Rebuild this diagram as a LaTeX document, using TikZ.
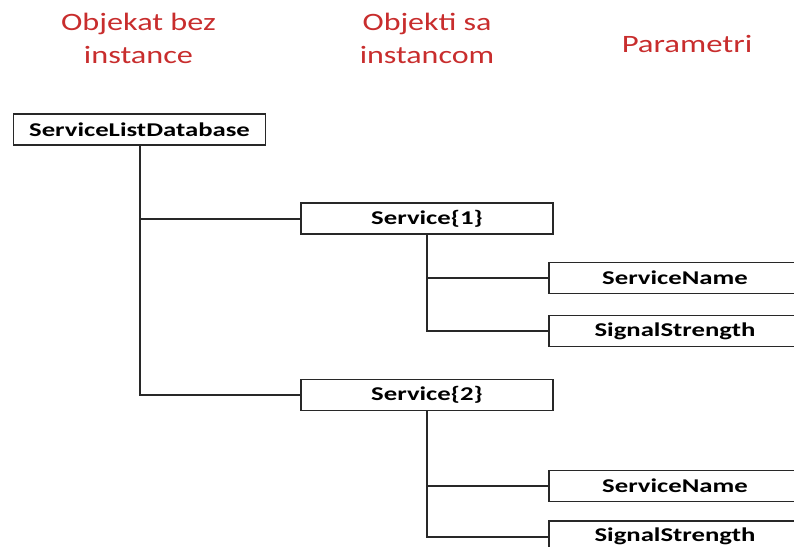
\documentclass[tikz,border=0pt]{standalone}
\usepackage{fontspec}
\setmainfont{Carlito}
\usepackage{graphicx}
\definecolor{hdrred}{RGB}{200,45,45}
\definecolor{linegray}{RGB}{40,40,40}
\newcommand\wideit[2]{\scalebox{#1}[1]{#2}}
\begin{document}
\begin{tikzpicture}[x=1pt,y=-1pt,
  box/.style={draw=linegray,line width=1.8pt,fill=white,minimum width=252pt,minimum height=31pt,inner sep=0pt,font=\fontsize{19.5}{22}\selectfont\bfseries},
  hdr/.style={text=hdrred,align=center,font=\fontsize{25}{33}\selectfont},
  link/.style={draw=linegray,line width=2pt}]
\useasboundingbox (0,0) rectangle (794,546);
\clip (0,0) rectangle (794,546);
\node[hdr] (h1) at (138.5,38) {\wideit{1.29}{Objekat bez}\\\wideit{1.29}{instance}};
\node[hdr] (h2) at (427,38) {\wideit{1.28}{Objekti sa}\\\wideit{1.28}{instancom}};
\node[hdr] (h3) at (687,44) {\wideit{1.31}{Parametri}};
\node[box] (sld) at (139.5,129.5) {\wideit{1.37}{ServiceListDatabase}};
\node[box] (s1) at (427,218.5) {\wideit{1.37}{Service\{1\}}};
\node[box] (s2) at (427,395) {\wideit{1.37}{Service\{2\}}};
\node[box] (n1) at (675,278) {\wideit{1.37}{ServiceName}};
\node[box] (g1) at (675,331) {\wideit{1.37}{SignalStrength}};
\node[box] (n2) at (675,486) {\wideit{1.37}{ServiceName}};
\node[box] (g2) at (675,536.5) {\wideit{1.37}{SignalStrength}};
\draw[link] (sld.south) |- (s1.west);
\draw[link] (sld.south) |- (s2.west);
\draw[link] (s1.south) |- (n1.west);
\draw[link] (s1.south) |- (g1.west);
\draw[link] (s2.south) |- (n2.west);
\draw[link] (s2.south) |- (g2.west);
\end{tikzpicture}
\end{document}
